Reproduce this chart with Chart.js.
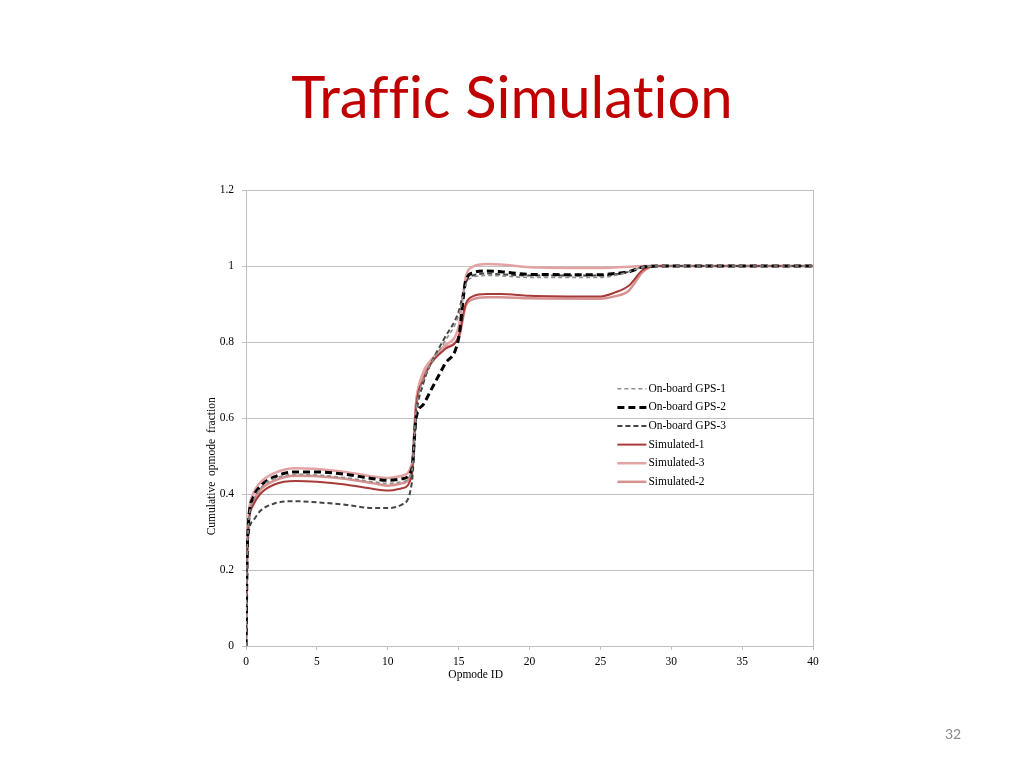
<!DOCTYPE html>
<html>
<head>
<meta charset="utf-8">
<script src="https://cdn.jsdelivr.net/npm/chart.js@4.4.0/dist/chart.umd.min.js"></script>
<style>
  body { margin: 0; background: #fff; }
  #wrap { position: relative; width: 1024px; height: 768px; }
  #title { position: absolute; left: 0; width: 1024px; top: 61px; text-align: center;
           font-family: Lato, "Noto Sans", sans-serif; font-size: 58px; color: #C00000;
           font-variant-ligatures: no-common-ligatures; }
  #page { position: absolute; left: 945px; top: 725px; font-family: Lato, sans-serif;
          font-size: 14px; color: #8a8a8a; }
  canvas { position: absolute; left: 0; top: 0; }
</style>
</head>
<body>
<div id="wrap">
  <div id="title">Traffic Simulation</div>
  <canvas id="myChart" width="1024" height="768"></canvas>
  <div id="page">32</div>
</div>
<script>
// opmode ids where the curves are sampled
const opmode = [0, 0.1, 0.5, 1, 2, 3.5, 5, 7, 9, 10, 11, 11.7, 12, 12.5, 13, 14, 15, 15.5, 16, 17, 18, 20, 25, 26, 27, 28, 29, 30, 35, 40];

const gps1 = [0, 0.27, 0.38, 0.415, 0.44, 0.452, 0.45, 0.443, 0.432, 0.428, 0.432, 0.46, 0.62, 0.70, 0.74, 0.80, 0.87, 0.95, 0.97, 0.975, 0.974, 0.97, 0.97, 0.975, 0.985, 0.997, 1, 1, 1, 1];
const gps2 = [0, 0.27, 0.39, 0.42, 0.445, 0.458, 0.458, 0.452, 0.44, 0.436, 0.44, 0.465, 0.60, 0.635, 0.67, 0.74, 0.81, 0.96, 0.982, 0.987, 0.985, 0.978, 0.977, 0.98, 0.985, 0.997, 1, 1, 1, 1];
const gps3 = [0, 0.26, 0.33, 0.355, 0.375, 0.381, 0.378, 0.372, 0.363, 0.363, 0.372, 0.43, 0.60, 0.69, 0.74, 0.81, 0.88, 0.955, 0.975, 0.98, 0.978, 0.975, 0.975, 0.978, 0.985, 0.997, 1, 1, 1, 1];
const sim1 = [0, 0.27, 0.37, 0.40, 0.425, 0.434, 0.432, 0.425, 0.413, 0.409, 0.415, 0.45, 0.63, 0.70, 0.74, 0.78, 0.815, 0.90, 0.92, 0.926, 0.926, 0.922, 0.92, 0.93, 0.948, 0.99, 1, 1, 1, 1];
const sim3 = [0, 0.28, 0.40, 0.43, 0.455, 0.468, 0.466, 0.458, 0.446, 0.442, 0.448, 0.48, 0.64, 0.72, 0.75, 0.79, 0.84, 0.97, 0.998, 1.005, 1.004, 0.997, 0.995, 0.996, 0.998, 1, 1, 1, 1, 1];
const sim2 = [0, 0.28, 0.38, 0.41, 0.435, 0.448, 0.447, 0.44, 0.428, 0.422, 0.428, 0.46, 0.64, 0.71, 0.745, 0.785, 0.81, 0.895, 0.912, 0.918, 0.918, 0.915, 0.914, 0.92, 0.935, 0.985, 1, 1, 1, 1];

const xTicks = [0, 5, 10, 15, 20, 25, 30, 35, 40];
const yTicks = [0, 0.2, 0.4, 0.6, 0.8, 1, 1.2];

function pts(vals) {
  return opmode.map((x, i) => ({ x: x, y: vals[i] }));
}

const serif = "'Liberation Serif', 'DejaVu Serif', serif";

// legend drawn inside the plot, like the original, plus the right border and axis titles
const boxLegend = {
  id: 'boxLegend',
  afterDatasetsDraw(chart) {
    const c = chart.ctx, a = chart.chartArea;
    c.save();
    c.strokeStyle = '#bfbfbf';
    c.lineWidth = 1;
    c.beginPath();
    c.moveTo(a.right + 0.5, a.top);
    c.lineTo(a.right + 0.5, a.bottom);
    c.stroke();

    c.font = '11.5px ' + serif;
    c.fillStyle = '#000';
    c.textAlign = 'center';
    c.textBaseline = 'middle';
    c.fillText('Opmode ID', a.left + (a.right - a.left) * 0.405, a.bottom + 29);

    // excel put the y title a bit below the middle
    c.save();
    c.translate(a.left - 34, a.top + (a.bottom - a.top) * 0.606);
    c.rotate(-Math.PI / 2);
    c.fillText('Cumulative  opmode  fraction', 0, 0);
    c.restore();

    let x0 = a.left + (a.right - a.left) * 0.655;
    let y0 = a.top + (a.bottom - a.top) * 0.436;
    c.textAlign = 'left';
    chart.data.datasets.forEach((ds, i) => {
      const y = y0 + i * 18.6;
      c.strokeStyle = ds.borderColor;
      c.lineWidth = ds.borderWidth;
      c.setLineDash(ds.borderDash || []);
      c.beginPath();
      c.moveTo(x0, y);
      c.lineTo(x0 + 29, y);
      c.stroke();
      c.setLineDash([]);
      c.fillStyle = '#000';
      c.fillText(ds.label, x0 + 31, y);
    });
    c.restore();
  }
};

var ctx = document.getElementById('myChart').getContext('2d');
var myChart = new Chart(ctx, {
  type: 'line',
  data: {
    datasets: [
      { label: 'On-board GPS-1', data: pts(gps1), borderColor: '#8f8f8f', borderWidth: 1.6, borderDash: [4, 3] },
      { label: 'On-board GPS-2', data: pts(gps2), borderColor: '#000000', borderWidth: 3, borderDash: [7, 4] },
      { label: 'On-board GPS-3', data: pts(gps3), borderColor: '#454545', borderWidth: 2, borderDash: [5, 3] },
      { label: 'Simulated-1', data: pts(sim1), borderColor: '#A83A3A', borderWidth: 2 },
      { label: 'Simulated-3', data: pts(sim3), borderColor: '#E4A3A3', borderWidth: 2.5 },
      { label: 'Simulated-2', data: pts(sim2), borderColor: '#D7918F', borderWidth: 2.5 }
    ]
  },
  options: {
    responsive: false,
    animation: false,
    layout: { padding: { left: 205, right: 211, top: 190, bottom: 82 } },
    elements: {
      point: { radius: 0 },
      line: { cubicInterpolationMode: 'monotone', fill: false }
    },
    plugins: {
      legend: { display: false },
      tooltip: { enabled: false }
    },
    scales: {
      x: {
        type: 'linear', min: 0, max: 40,
        afterFit: s => { s.height = 40; },
        afterBuildTicks: s => { s.ticks = xTicks.map(v => ({ value: v })); },
        grid: { drawOnChartArea: false, drawTicks: true, tickLength: 4, color: '#bfbfbf' },
        border: { color: '#bfbfbf' },
        ticks: { color: '#000', font: { family: serif, size: 11.5 }, padding: 5 }
      },
      y: {
        min: 0, max: 1.2,
        afterFit: s => { s.width = 41; },
        afterBuildTicks: s => { s.ticks = yTicks.map(v => ({ value: v })); },
        grid: { color: '#bfbfbf', drawTicks: true, tickLength: 4 },
        border: { color: '#bfbfbf' },
        ticks: { color: '#000', font: { family: serif, size: 11.5 }, padding: 8,
                 callback: v => String(+v.toFixed(1)) }
      }
    }
  },
  plugins: [boxLegend]
});
</script>
</body>
</html>
